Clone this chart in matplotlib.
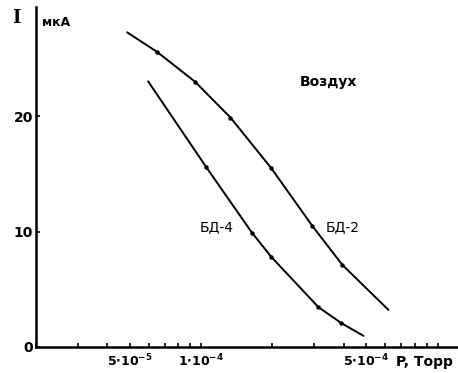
import matplotlib
matplotlib.use("Agg")
import matplotlib.pyplot as plt
from matplotlib.ticker import FixedLocator, NullFormatter

# БД-2 (upper curve), pressure in Torr, current in мкА
p_bd2 = [4.86e-5, 6.51e-5, 9.43e-5, 1.33e-4, 1.98e-4, 2.95e-4, 3.96e-4, 6.2e-4]
i_bd2 = [27.3, 25.6, 23.0, 19.9, 15.5, 10.5, 7.1, 3.2]

# БД-4 (lower curve)
p_bd4 = [5.96e-5, 1.05e-4, 1.64e-4, 1.98e-4, 3.13e-4, 3.92e-4, 4.86e-4]
i_bd4 = [23.05, 15.6, 9.9, 7.8, 3.45, 2.05, 0.95]

xtick_vals = [5e-5, 1e-4, 5e-4]
xtick_labels = [r"$\mathbf{5{\cdot}10^{-5}}$", r"$\mathbf{1{\cdot}10^{-4}}$",
                r"$\mathbf{5{\cdot}10^{-4}}$"]
minor_vals = [2e-5, 3e-5, 4e-5, 6e-5, 7e-5, 8e-5, 9e-5, 2e-4, 3e-4, 4e-4,
              6e-4, 7e-4, 8e-4, 9e-4, 1e-3]
ytick_vals = [0, 10, 20]

fig = plt.figure(figsize=(4.58, 3.73), dpi=100)
ax = fig.add_axes([36 / 458, (373 - 346.8) / 373, 1 - 36 / 458, (346.8 - 7) / 373])

for p, i in [(p_bd2, i_bd2), (p_bd4, i_bd4)]:
    ax.plot(p, i, color="black", lw=1.4, solid_capstyle="round",
            solid_joinstyle="round")
    ax.plot(p[1:-1], i[1:-1], "o", color="black", ms=2.2)

ax.set_xscale("log")
ax.set_xlim(2e-5, 1.22e-3)
ax.set_ylim(0, 29.5)

ax.spines["top"].set_visible(False)
ax.spines["right"].set_visible(False)
ax.spines["left"].set_linewidth(1.8)
ax.spines["bottom"].set_linewidth(1.8)

ax.xaxis.set_major_locator(FixedLocator(xtick_vals))
ax.set_xticklabels(xtick_labels)
ax.xaxis.set_minor_locator(FixedLocator(minor_vals))
ax.xaxis.set_minor_formatter(NullFormatter())
ax.tick_params(axis="x", which="both", direction="in", length=3, width=1.2,
               labelsize=9, pad=4)
ax.set_yticks(ytick_vals)
ax.set_yticklabels([str(v) for v in ytick_vals], fontweight="bold")
ax.tick_params(axis="y", direction="in", length=3, width=1.2, labelsize=10, pad=2)

fig.text(12 / 458, 1 - 18 / 373, "I", fontsize=13, fontweight="bold",
         family="DejaVu Serif", ha="left", va="center")
fig.text(42 / 458, 1 - 23 / 373, "мкА", fontsize=9, fontweight="bold",
         ha="left", va="center")
fig.text(396 / 458, 1 - 362 / 373, "P, Торр", fontsize=10, fontweight="bold",
         ha="left", va="center")
ax.text(2.6e-4, 23.0, "Воздух", fontsize=10, fontweight="bold",
        ha="left", va="center")
ax.text(9.8e-5, 10.4, "БД-4", fontsize=10, ha="left", va="center")
ax.text(3.36e-4, 10.4, "БД-2", fontsize=10, ha="left", va="center")

fig.savefig("out.png", dpi=100)
